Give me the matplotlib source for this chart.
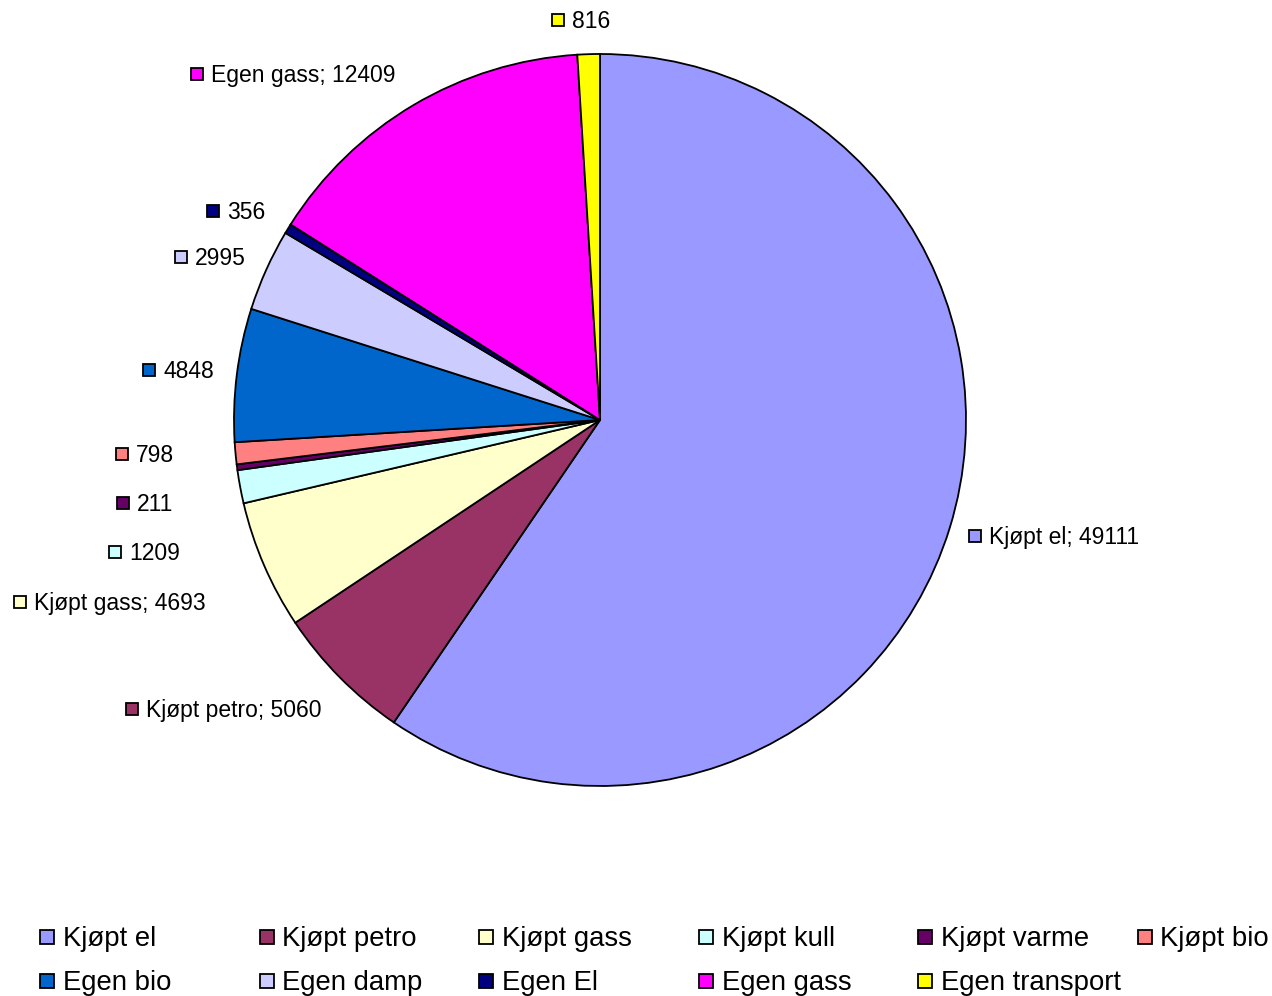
import matplotlib.pyplot as plt
from matplotlib.patches import Rectangle

plt.rcParams['font.family'] = ['Liberation Sans', 'DejaVu Sans']

categories = ['Kjøpt el', 'Kjøpt petro', 'Kjøpt gass', 'Kjøpt kull', 'Kjøpt varme',
              'Kjøpt bio', 'Egen bio', 'Egen damp', 'Egen El', 'Egen gass',
              'Egen transport']
values = [49111, 5060, 4693, 1209, 211, 798, 4848, 2995, 356, 12409, 816]
colors = ['#9999FF', '#993366', '#FFFFCC', '#CCFFFF', '#660066', '#FF8080',
          '#0066CC', '#CCCCFF', '#000080', '#FF00FF', '#FFFF00']
show_name = [True, True, True, False, False, False, False, False, False, True, False]

# label anchor (left edge of marker square, y centre) in pixels from top-left
label_pos = [(969, 536), (126, 709), (14, 602), (109, 552), (117, 503),
             (116, 454), (143, 370), (175, 257), (207, 211), (191, 74), (552, 20)]

W, H = 1272, 996
fig = plt.figure(figsize=(W / 100, H / 100), dpi=100)
ax = fig.add_axes([0, 0, 1, 1])
ax.set_xlim(0, W)
ax.set_ylim(0, H)
ax.set_aspect('equal')
ax.axis('off')

ax.pie(values, colors=colors, startangle=90, counterclock=False,
       center=(600, H - 420), radius=366,
       wedgeprops=dict(edgecolor='black', linewidth=1.3))
ax.set_xlim(0, W)
ax.set_ylim(0, H)

sq = 12
for name, val, col, show, (x, y) in zip(categories, values, colors, show_name, label_pos):
    ax.add_patch(Rectangle((x, H - y - sq / 2), sq, sq, facecolor=col,
                           edgecolor='black', linewidth=1.3))
    txt = f'{name}; {val}' if show else f'{val}'
    ax.text(x + sq + 8, H - y - 1.5, txt, fontsize=16.5, va='center', ha='left')

# legend, filled row-wise, 6 columns
lx0, dx = 40, 219.5
rows_y = [937, 981]
lsq = 14
for i, (name, col) in enumerate(zip(categories, colors)):
    r, c = divmod(i, 6)
    x = lx0 + c * dx
    y = rows_y[r]
    ax.add_patch(Rectangle((x, H - y - lsq / 2), lsq, lsq, facecolor=col,
                           edgecolor='black', linewidth=1.3))
    ax.text(x + lsq + 9, H - y - 2, name, fontsize=19.8, va='center', ha='left')

fig.savefig('out.png', dpi=100)
